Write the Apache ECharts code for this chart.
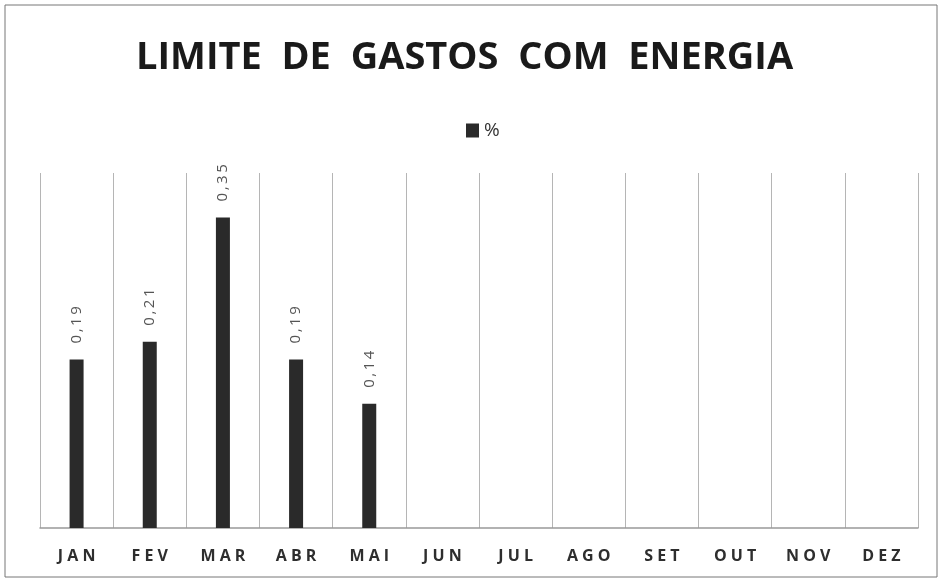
<!DOCTYPE html>
<html lang="pt">
<head>
    <meta charset="UTF-8">
    <title>Limite de gastos com energia</title>
    <script src="https://cdn.jsdelivr.net/npm/echarts@6/dist/echarts.min.js"></script>
    <style>
        html, body { margin: 0; padding: 0; background: #fff; }
    </style>
</head>
<body>
    <div id="main" style="width:940px;height:580px;"></div>
    <script>
        // dados do gráfico
        let titulo = 'LIMITE DE GASTOS COM ENERGIA';
        let meses = ['JAN', 'FEV', 'MAR', 'ABR', 'MAI', 'JUN', 'JUL', 'AGO', 'SET', 'OUT', 'NOV', 'DEZ'];
        let percentual = [0.19, 0.21, 0.35, 0.19, 0.14, null, null, null, null, null, null, null];

        // espaçamento entre letras (zrender não tem letterSpacing)
        function espacar(txt, sep) {
            return txt.split('').join(sep);
        }

        let chart = echarts.init(document.getElementById('main'));

        chart.setOption({
            backgroundColor: '#fff',
            animation: false,
            title: {
                text: titulo.split(' ').join('  '),
                left: 131,
                top: 34,
                padding: [5, 5, 5, 5],
                textStyle: {
                    fontFamily: 'Open Sans',
                    fontWeight: 'bold',
                    fontSize: 38,
                    color: '#1a1a1a'
                }
            },
            legend: {
                top: 116,
                left: 461,
                icon: 'rect',
                itemWidth: 13,
                itemHeight: 14,
                itemGap: 4,
                data: ['%'],
                textStyle: {
                    fontFamily: 'Open Sans',
                    fontSize: 19,
                    color: '#333',
                    padding: [0, 0, 0, 0]
                }
            },
            grid: {
                left: 40,
                right: 22,
                top: 173,
                bottom: 52
            },
            xAxis: {
                type: 'category',
                data: meses,
                axisTick: { show: false },
                axisLine: { lineStyle: { color: '#999', width: 1.5 } },
                splitLine: { show: true, lineStyle: { color: '#b5b5b5', width: 1 } },
                axisLabel: {
                    margin: 20,
                    fontFamily: 'Open Sans',
                    fontWeight: 'bold',
                    fontSize: 16,
                    color: '#2e2e2e',
                    formatter: function (v) {
                        return espacar(v, ' ');
                    }
                }
            },
            yAxis: {
                type: 'value',
                min: 0,
                max: 0.4,
                show: false,
                splitLine: { show: false }
            },
            series: [{
                name: '%',
                type: 'bar',
                data: percentual,
                barWidth: 14,
                itemStyle: { color: '#2a2a2a' },
                label: {
                    show: true,
                    position: 'top',
                    rotate: 90,
                    align: 'left',
                    verticalAlign: 'middle',
                    distance: 16,
                    fontFamily: 'Open Sans',
                    fontSize: 15,
                    color: '#555',
                    formatter: function (p) {
                        return espacar(p.value.toFixed(2).replace('.', ','), '\u2009');
                    }
                }
            }],
            graphic: [{
                type: 'rect',
                shape: { x: 5, y: 5, width: 932, height: 572 },
                style: { fill: 'none', stroke: '#777', lineWidth: 1 },
                silent: true
            }]
        });
    </script>
</body>
</html>
